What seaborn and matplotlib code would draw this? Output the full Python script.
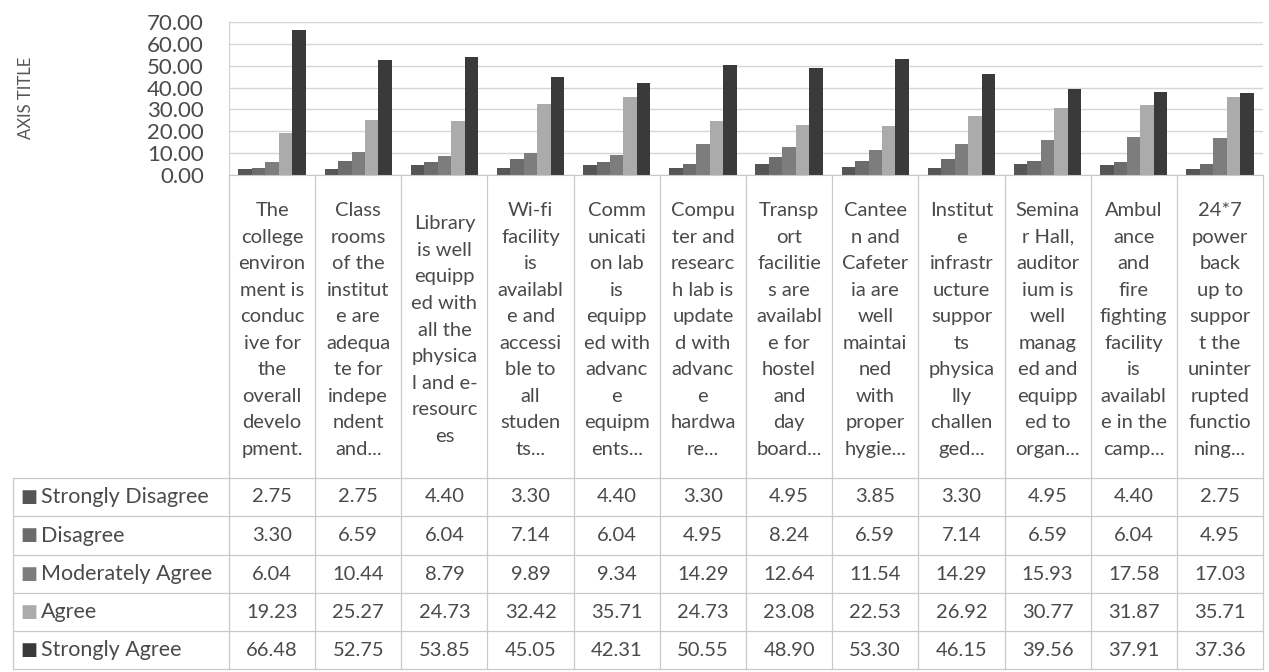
import matplotlib
matplotlib.use("Agg")
import matplotlib.pyplot as plt
from matplotlib.lines import Line2D
from matplotlib.transforms import blended_transform_factory
import seaborn as sns
import pandas as pd

# wrapped exactly as in the Excel data table header
categories = [
    "The\ncollege\nenviron\nment is\nconduc\nive for\nthe\noverall\ndevelo\npment.",
    "Class\nrooms\nof the\ninstitut\ne are\nadequa\nte for\nindepe\nndent\nand...",
    "Library\nis well\nequipp\ned with\nall the\nphysica\nl and e-\nresourc\nes",
    "Wi-fi\nfacility\nis\navailabl\ne and\naccessi\nble to\nall\nstuden\nts...",
    "Comm\nunicati\non lab\nis\nequipp\ned with\nadvanc\ne\nequipm\nents...",
    "Compu\nter and\nresearc\nh lab is\nupdate\nd with\nadvanc\ne\nhardwa\nre...",
    "Transp\nort\nfacilitie\ns are\navailabl\ne for\nhostel\nand\nday\nboard...",
    "Cantee\nn and\nCafeter\nia are\nwell\nmaintai\nned\nwith\nproper\nhygie...",
    "Institut\ne\ninfrastr\nucture\nsuppor\nts\nphysica\nlly\nchallen\nged...",
    "Semina\nr Hall,\nauditor\nium is\nwell\nmanag\ned and\nequipp\ned to\norgan...",
    "Ambul\nance\nand\nfire\nfighting\nfacility\nis\navailabl\ne in the\ncamp...",
    "24*7\npower\nback\nup to\nsuppor\nt the\nuninter\nrupted\nfunctio\nning...",
]

responses = ["Strongly Disagree", "Disagree", "Moderately Agree", "Agree", "Strongly Agree"]

strongly_disagree = [2.75, 2.75, 4.40, 3.30, 4.40, 3.30, 4.95, 3.85, 3.30, 4.95, 4.40, 2.75]
disagree = [3.30, 6.59, 6.04, 7.14, 6.04, 4.95, 8.24, 6.59, 7.14, 6.59, 6.04, 4.95]
moderately_agree = [6.04, 10.44, 8.79, 9.89, 9.34, 14.29, 12.64, 11.54, 14.29, 15.93, 17.58, 17.03]
agree = [19.23, 25.27, 24.73, 32.42, 35.71, 24.73, 23.08, 22.53, 26.92, 30.77, 31.87, 35.71]
strongly_agree = [66.48, 52.75, 53.85, 45.05, 42.31, 50.55, 48.90, 53.30, 46.15, 39.56, 37.91, 37.36]

yticks = [0, 10, 20, 30, 40, 50, 60, 70]
colors = ["#555555", "#6c6c6c", "#7d7d7d", "#ababab", "#3a3a3a"]

series = [strongly_disagree, disagree, moderately_agree, agree, strongly_agree]
rows = []
for resp, vals in zip(responses, series):
    for cat, v in zip(categories, vals):
        rows.append({"item": cat, "response": resp, "percent": v})
df = pd.DataFrame(rows)

sns.set_style("white")
plt.rcParams["font.family"] = ["Lato", "DejaVu Sans"]

W, H = 1269, 672
fig = plt.figure(figsize=(W / 100, H / 100), dpi=100)


def fx(px):
    return px / W


def fy(py):
    return 1 - py / H


ax = fig.add_axes([fx(229), fy(175), fx(1263) - fx(229), fy(22) - fy(175)])

sns.barplot(data=df, x="item", y="percent", hue="response", order=categories,
            hue_order=responses, palette=colors, saturation=1, width=0.78,
            gap=0, legend=False, ax=ax, errorbar=None, linewidth=0)

n = len(categories)
ax.set_xlim(-0.5, n - 0.5)
ax.set_ylim(0, 70)
ax.set_yticks(yticks)
ax.set_yticklabels([f"{t:.2f}" for t in yticks], fontsize=16, color="#4a4a4a")
ax.set_xticks([])
ax.set_xlabel("")
ax.set_ylabel("")
ax.tick_params(axis="y", length=0, pad=18)
ax.yaxis.grid(True, color="#d6d6d6", lw=1)
ax.set_axisbelow(True)
for side in ["top", "right"]:
    ax.spines[side].set_visible(False)
ax.spines["left"].set_color("#d0d0d0")
ax.spines["bottom"].set_color("#c8c8c8")

fig.text(fx(26), fy(98), "AXIS TITLE", rotation=90, ha="center", va="center",
         fontsize=12, color="#555555")

# data table under the plot
trans = blended_transform_factory(ax.transData, fig.transFigure)
grid_color = "#c9c9c9"
row_lines = [478, 516, 555, 593, 631, 669]
x_right = ax.get_position().x1

for i in range(n + 1):
    fig.add_artist(Line2D([i - 0.5, i - 0.5], [fy(175), fy(669)],
                          transform=trans, color=grid_color, lw=0.9))
fig.add_artist(Line2D([fx(13), fx(13)], [fy(478), fy(669)],
                      transform=fig.transFigure, color=grid_color, lw=0.9))
for py in row_lines:
    fig.add_artist(Line2D([fx(13), x_right], [fy(py), fy(py)],
                          transform=fig.transFigure, color=grid_color, lw=0.9))

text_color = "#4a4a4a"
for i, cat in enumerate(categories):
    ax.text(i, fy(330), cat, transform=trans, ha="center", va="center",
            fontsize=14.5, color=text_color, linespacing=1.68)

for r, (resp, vals, col) in enumerate(zip(responses, series, colors)):
    yc = fy((row_lines[r] + row_lines[r + 1]) / 2)
    fig.text(fx(20), yc, "\u25a0", ha="left", va="center", fontsize=13,
             color=col, family="DejaVu Sans")
    fig.text(fx(41), yc, resp, ha="left", va="center", fontsize=15.5,
             color=text_color)
    for i, v in enumerate(vals):
        ax.text(i, yc, f"{v:.2f}", transform=trans, ha="center", va="center",
                fontsize=14.5, color=text_color)

fig.savefig("out.png", dpi=100)
